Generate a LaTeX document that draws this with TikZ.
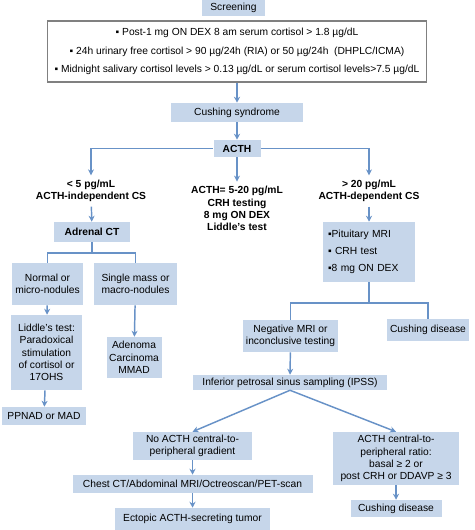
\documentclass[tikz,border=0pt]{standalone}
\usepackage{fontspec}
\setmainfont{Liberation Sans}
\usetikzlibrary{arrows.meta}
\definecolor{boxblue}{RGB}{198,214,234}
\definecolor{lineblue}{RGB}{104,146,199}

\begin{document}
\begin{tikzpicture}[x=0.75pt, y=-0.75pt,
  every node/.style={font=\fontsize{7.7}{9.2}\selectfont},
  sz/.style 2 args={minimum width=#1*0.75pt, minimum height=#2*0.75pt},
  box/.style={fill=boxblue, inner sep=0pt, align=center},
  hd/.style={font=\fontsize{7.7}{9.2}\selectfont\bfseries, align=center},
  arr/.style={draw=lineblue, line width=1.1pt, -{Stealth[length=4.5pt, width=4.5pt]}},
  lnk/.style={draw=lineblue, line width=1.1pt}]
\useasboundingbox (0,0) rectangle (474,530);

\node[box, sz={63}{16}] (screen) at (233.5,8) {Screening};
\node[draw=gray, fill=white, line width=0.8pt, inner sep=0pt, sz={379}{61}, align=center,
      font=\fontsize{7.7}{13.9}\selectfont] (crit) at (237,51.5)
  {▪ Post-1 mg ON DEX 8 am serum cortisol > 1.8 µg/dL\\
   ▪ 24h urinary free cortisol > 90 µg/24h (RIA) or 50 µg/24h~~(DHPLC/ICMA)\\
   ▪ Midnight salivary cortisol levels > 0.13 µg/dL or serum cortisol levels>7.5 µg/dL};
\node[box, sz={132}{19}] (cs) at (237,112.5) {Cushing syndrome};
\node[box, hd, sz={47}{17}] (acth) at (237,148.5) {ACTH};

\node[hd] (indep) at (91,191) {< 5 pg/mL\\ACTH-independent CS};
\node[hd] (mid) at (237,208.5) {ACTH= 5-20 pg/mL\\CRH testing\\8 mg ON DEX\\Liddle’s test};
\node[hd] (dep) at (369,191) {> 20 pg/mL\\ACTH-dependent CS};

% adrenal side
\node[box, hd, sz={76}{20}] (adrct) at (92,232) {Adrenal CT};
\coordinate (adrj) at (92,253);
\node[box, sz={71}{42}] (normal) at (47.5,284) {Normal or\\micro-nodules};
\node[box, sz={83}{42}] (single) at (135.5,284) {Single mass or\\macro-nodules};
\node[box, sz={71}{75}] (liddle) at (46.5,352.5)
  {Liddle’s test:\\Paradoxical\\stimulation\\of cortisol or\\17OHS};
\node[box, sz={84}{18}] (ppnad) at (44,416) {PPNAD or MAD};
\node[box, sz={55}{41}] (adenoma) at (134,357.5) {Adenoma\\Carcinoma\\MMAD};

% pituitary side
\node[box, sz={92}{60}, text width=82*0.75pt, align=left,
      font=\fontsize{7.7}{12.75}\selectfont] (pit) at (369,252)
  {▪Pituitary MRI\\▪ CRH test\\▪8 mg ON DEX};
\coordinate (pitj) at (369,303);
\node[box, sz={95}{32}] (negmri) at (290.5,336) {Negative MRI or\\inconclusive testing};
\node[box, sz={82}{22}] (cd1) at (428,330) {Cushing disease};
\node[box, sz={194}{15}] (ipss) at (290,382.5) {Inferior petrosal sinus sampling (IPSS)};
\node[box, sz={119}{28}] (noacth) at (192.5,446) {No ACTH central-to-\\peripheral gradient};
\node[box, sz={126}{53}] (ratio) at (396,458.5)
  {ACTH central-to-\\peripheral ratio:\\basal ≥ 2 or\\post CRH or DDAVP ≥ 3};
\node[box, sz={240}{18}] (chest) at (192.5,484) {Chest CT/Abdominal MRI/Octreoscan/PET-scan};
\node[box, sz={155}{22}] (ectopic) at (192.5,519) {Ectopic ACTH-secreting tumor};
\node[box, sz={91}{17}] (cd2) at (396,508.5) {Cushing disease};

\draw[arr] (crit) -- (cs);
\draw[arr] (cs) -- (acth);
\draw[arr] (acth.west) -| (indep.north);
\draw[arr] (acth.east) -| (dep.north);
\draw[arr] (acth) -- (mid);
\draw[arr] (indep) -- (adrct);
\draw[arr] (dep) -- (pit);

\draw[lnk] (adrct) -- (adrj);
\draw[lnk] (normal.north) |- (adrj) -| (single.north);
\draw[arr] (normal) -- (liddle);
\draw[arr] (liddle) -- (ppnad);
\draw[arr] (single) -- (adenoma);

\draw[lnk] (pit) -- (pitj);
\draw[lnk] (negmri.north) |- (pitj) -| (cd1.north);
\draw[arr] (negmri) -- (ipss);
\draw[arr] (ipss.south) -- (noacth.north);
\draw[arr] (ipss.south) -- (ratio.north);
\draw[arr] (noacth) -- (chest);
\draw[arr] (chest) -- (ectopic);
\draw[arr] (ratio) -- (cd2);
\end{tikzpicture}
\end{document}
